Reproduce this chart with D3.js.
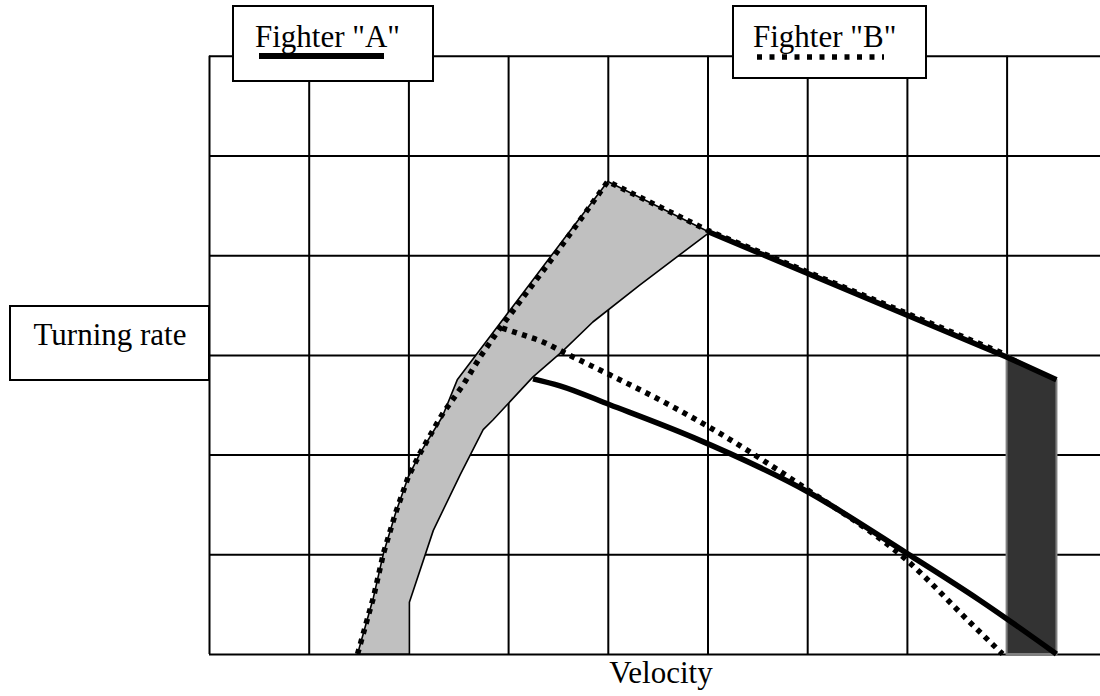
<!DOCTYPE html>
<html>
<head>
<meta charset="utf-8">
<script src="https://cdnjs.cloudflare.com/ajax/libs/d3/7.8.5/d3.min.js"></script>
<style>
  body { margin: 0; background: #fff; }
  text { font-family: "Liberation Serif", "Times New Roman", serif; font-size: 31px; fill: #000; }
</style>
</head>
<body>
<div id="chart"></div>
<script>
// grid cells: velocity (x) and turning rate (y), unitless
var xTicks = [0, 1, 2, 3, 4, 5, 6, 7, 8, 9];
var yTicks = [0, 1, 2, 3, 4, 5, 6];

var seriesNames = ['Fighter "A"', 'Fighter "B"'];
var xLabel = "Velocity";
var yLabel = "Turning rate";

// Fighter A, solid lines
var fighterAUpper = [[5.02, 4.23], [8.0, 2.98], [8.5, 2.75]];
var fighterALower = [[3.25, 2.76], [3.52, 2.69], [4.02, 2.50], [4.86, 2.17], [6.0, 1.63], [7.0, 1.01], [7.73, 0.54], [8.5, 0.0]];

// Fighter B, dotted lines
var fighterBOuter = [[1.49, 0.0], [1.65, 0.57], [1.75, 1.01], [1.87, 1.41], [2.0, 1.78], [2.12, 2.02], [2.29, 2.32], [2.35, 2.42], [2.55, 2.70], [2.72, 2.98], [2.92, 3.27], [3.22, 3.67], [3.49, 4.03], [4.0, 4.74], [5.0, 4.25], [8.0, 3.0]];
var fighterBInner = [[2.94, 3.27], [3.15, 3.20], [3.35, 3.13], [3.57, 3.02], [4.02, 2.80], [4.52, 2.55], [5.06, 2.25], [6.0, 1.65], [7.0, 0.94], [7.66, 0.29], [7.96, 0.0]];

// shaded regions
var greyRegion = [[1.49, 0.0], [1.65, 0.57], [1.75, 1.01], [1.87, 1.41], [2.0, 1.78], [2.12, 2.02], [2.34, 2.38], [2.49, 2.75], [3.55, 4.15], [4.0, 4.74], [5.02, 4.23], [4.32, 3.70], [3.85, 3.33], [3.55, 3.04], [3.25, 2.78], [2.85, 2.35], [2.75, 2.25], [2.52, 1.80], [2.25, 1.24], [2.01, 0.52], [2.01, 0.0]];
var darkRegion = [[8.0, 3.0], [8.5, 2.75], [8.5, 0.0], [8.0, 0.0]];

var width = 1100;
var height = 696;
var gridLeft = 209, gridTop = 55.8, gridBottom = 654;
var cell = (gridBottom - gridTop) / 6;

var svg = d3.select("#chart")
  .append("svg")
  .attr("width", width)
  .attr("height", height);

var x = d3.scaleLinear().domain([0, 9]).range([gridLeft, gridLeft + 9 * cell]);
var y = d3.scaleLinear().domain([0, 6]).range([gridBottom, gridTop]);

// grid via axes
svg.append("g")
  .attr("transform", "translate(0," + gridBottom + ")")
  .call(d3.axisBottom(x).tickValues(xTicks).tickSize(-(gridBottom - gridTop)).tickFormat(""));
svg.append("g")
  .attr("transform", "translate(" + gridLeft + ",0)")
  .call(d3.axisLeft(y).tickValues(yTicks).tickSize(-(9 * cell)).tickFormat(""));
svg.selectAll(".domain").remove();
svg.selectAll(".tick line").attr("stroke", "#000").attr("stroke-width", 2);

var line = d3.line()
  .x(function(d) { return x(d[0]); })
  .y(function(d) { return y(d[1]); });

var smooth = d3.line()
  .curve(d3.curveMonotoneX)
  .x(function(d) { return x(d[0]); })
  .y(function(d) { return y(d[1]); });

svg.append("path")
  .attr("d", line(greyRegion) + "Z")
  .attr("fill", "#c0c0c0")
  .attr("stroke", "#000")
  .attr("stroke-width", 1.6)
  .attr("stroke-linejoin", "round");

svg.append("path")
  .attr("d", line(darkRegion) + "Z")
  .attr("fill", "#333")
  .attr("stroke", "#808080")
  .attr("stroke-width", 2);

svg.append("path")
  .attr("d", line(fighterAUpper))
  .attr("fill", "none")
  .attr("stroke", "#000")
  .attr("stroke-width", 5.5);

svg.append("path")
  .attr("d", smooth(fighterALower))
  .attr("fill", "none")
  .attr("stroke", "#000")
  .attr("stroke-width", 5.5);

svg.append("path")
  .attr("d", line(fighterBOuter))
  .attr("fill", "none")
  .attr("stroke", "#000")
  .attr("stroke-width", 5.5)
  .attr("stroke-dasharray", "5,5.5");

svg.append("path")
  .attr("d", smooth(fighterBInner))
  .attr("fill", "none")
  .attr("stroke", "#000")
  .attr("stroke-width", 5.5)
  .attr("stroke-dasharray", "5,5.5");

// legend boxes
var drawBox = function(x0, y0, w, h) {
  svg.append("rect")
    .attr("x", x0).attr("y", y0)
    .attr("width", w).attr("height", h)
    .attr("fill", "#fff")
    .attr("stroke", "#000")
    .attr("stroke-width", 2);
}

drawBox(233, 6, 200, 75);
svg.append("text").attr("x", 255).attr("y", 47).text(seriesNames[0]);
svg.append("line")
  .attr("x1", 259).attr("x2", 384).attr("y1", 56).attr("y2", 56)
  .attr("stroke", "#000").attr("stroke-width", 6);

drawBox(733, 6, 193, 72);
svg.append("text").attr("x", 753).attr("y", 47).text(seriesNames[1]);
svg.append("line")
  .attr("x1", 757).attr("x2", 884).attr("y1", 57).attr("y2", 57)
  .attr("stroke", "#000").attr("stroke-width", 5.5)
  .attr("stroke-dasharray", "5,7.5");

drawBox(10, 306, 199, 74);
svg.append("text").attr("x", 110).attr("y", 345).attr("text-anchor", "middle").text(yLabel);

svg.append("text").attr("x", 661).attr("y", 683).attr("text-anchor", "middle").text(xLabel);
</script>
</body>
</html>
